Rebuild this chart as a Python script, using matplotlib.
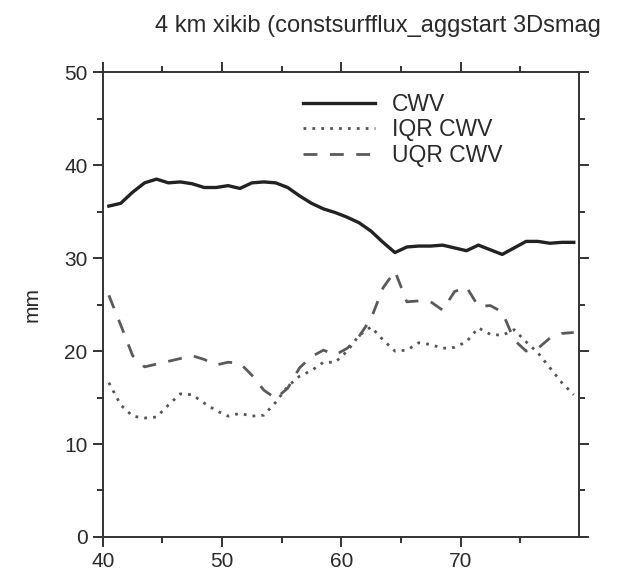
import matplotlib
matplotlib.use("Agg")
import matplotlib.pyplot as plt
from matplotlib.ticker import MultipleLocator, FixedLocator

plt.rcParams['font.family'] = ['Liberation Sans', 'DejaVu Sans']

# x positions (bin centres)
x = [40.5, 41.5, 42.5, 43.5, 44.5, 45.5, 46.5, 47.5, 48.5, 49.5,
     50.5, 51.5, 52.5, 53.5, 54.5, 55.5, 56.5, 57.5, 58.5, 59.5,
     60.5, 61.5, 62.5, 63.5, 64.5, 65.5, 66.5, 67.5, 68.5, 69.5,
     70.5, 71.5, 72.5, 73.5, 74.5, 75.5, 76.5, 77.5, 78.5, 79.5]

cwv = [35.6, 35.9, 37.1, 38.1, 38.5, 38.1, 38.2, 38.0, 37.6, 37.6,
       37.8, 37.5, 38.1, 38.2, 38.1, 37.6, 36.7, 35.9, 35.3, 34.9,
       34.4, 33.8, 32.9, 31.7, 30.6, 31.2, 31.3, 31.3, 31.4, 31.1,
       30.8, 31.4, 30.9, 30.4, 31.1, 31.8, 31.8, 31.6, 31.7, 31.7]

iqr = [16.6, 14.2, 13.0, 12.8, 12.9, 14.2, 15.4, 15.3, 14.4, 13.6,
       13.0, 13.3, 13.0, 13.1, 14.5, 16.2, 17.3, 17.9, 18.8, 18.8,
       20.0, 21.7, 22.6, 21.2, 20.0, 20.1, 20.9, 20.7, 20.3, 20.4,
       21.0, 22.5, 21.8, 21.7, 22.3, 21.0, 19.8, 18.2, 16.6, 15.3]

uqr = [26.0, 22.8, 19.5, 18.3, 18.6, 18.9, 19.2, 19.5, 19.1, 18.5,
       18.8, 18.7, 17.4, 15.8, 14.9, 16.0, 18.2, 19.4, 20.1, 19.6,
       20.3, 21.6, 23.5, 26.8, 28.6, 25.3, 25.4, 25.3, 24.4, 26.4,
       26.9, 24.8, 24.9, 24.2, 21.2, 20.0, 20.3, 21.4, 21.9, 22.0]

title = "4 km xikib (constsurfflux_aggstart 3Dsmag"

fig = plt.figure(figsize=(6.35, 5.78), dpi=100)
ax = fig.add_axes([0.162, 0.071, 0.750, 0.804])

ax.plot(x, cwv, color='#222222', lw=2.4, ls='-', label='CWV')
ax.plot(x, iqr, color='#555555', lw=2.0, ls=(0, (1, 2.2)), label='IQR CWV')
ax.plot(x, uqr, color='#5a5a5a', lw=2.0, ls=(0, (5, 4.5)), label='UQR CWV')

ax.set_xlim(40, 79.95)
ax.set_ylim(0, 50)
ax.xaxis.set_major_locator(FixedLocator([40, 50, 60, 70]))
ax.xaxis.set_minor_locator(FixedLocator([45, 55, 65, 75]))
ax.yaxis.set_major_locator(MultipleLocator(10))
ax.yaxis.set_minor_locator(MultipleLocator(5))

ax.tick_params(which='both', direction='out', top=True, right=True,
               width=1.4, color='#333333', labelsize=15, labelcolor='#2a2a2a')
ax.tick_params(which='major', length=7, pad=4)
ax.tick_params(which='minor', length=4)
for s in ax.spines.values():
    s.set_linewidth(1.4)
    s.set_color('#333333')

ax.set_ylabel('mm', fontsize=15, color='#2a2a2a', labelpad=16)

ax.legend(loc='upper left', bbox_to_anchor=(0.42, 0.955), frameon=False,
          fontsize=16.5, handlelength=3.15, handletextpad=0.75,
          labelspacing=0.1, borderpad=0, borderaxespad=0,
          labelcolor='#2a2a2a')

fig.text(155 / 635, 1 - 26 / 578, title, fontsize=17, color='#2a2a2a',
         ha='left', va='center')

fig.savefig('out.png', dpi=100)
